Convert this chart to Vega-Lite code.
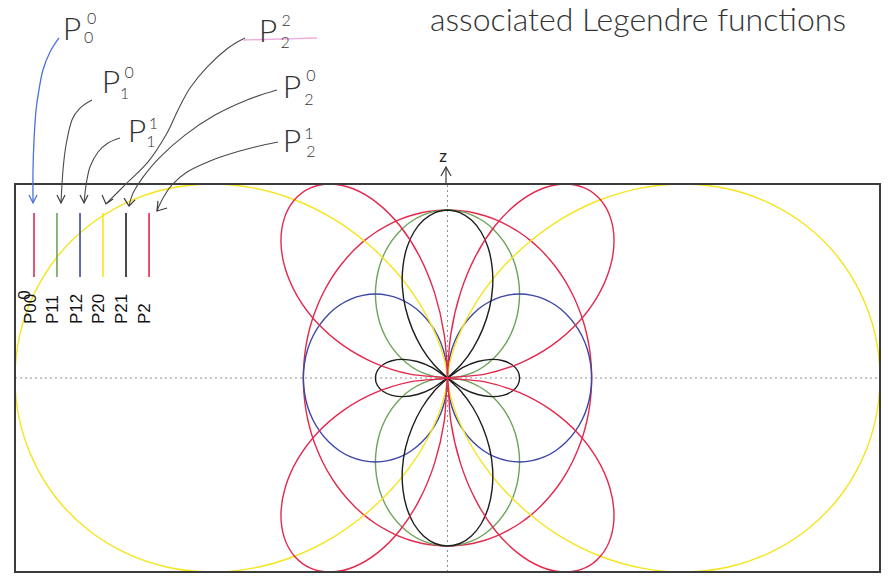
{
  "$schema": "https://vega.github.io/schema/vega-lite/v6.json",
  "width": 888,
  "height": 581,
  "autosize": {"type": "fit", "contains": "padding"},
  "padding": 0,
  "background": "white",
  "view": {"stroke": null},
  "config": {"font": "Liberation Sans"},
  "datasets": {
    "curves": [
      {"c":"P00","x":0,"y":1},{"c":"P00","x":0.087,"y":0.996},{"c":"P00","x":0.174,"y":0.985},{"c":"P00","x":0.259,"y":0.966},{"c":"P00","x":0.342,"y":0.94},{"c":"P00","x":0.423,"y":0.906},{"c":"P00","x":0.5,"y":0.866},{"c":"P00","x":0.574,"y":0.819},{"c":"P00","x":0.643,"y":0.766},{"c":"P00","x":0.707,"y":0.707},{"c":"P00","x":0.766,"y":0.643},{"c":"P00","x":0.819,"y":0.574},{"c":"P00","x":0.866,"y":0.5},{"c":"P00","x":0.906,"y":0.423},{"c":"P00","x":0.94,"y":0.342},{"c":"P00","x":0.966,"y":0.259},{"c":"P00","x":0.985,"y":0.174},{"c":"P00","x":0.996,"y":0.087},{"c":"P00","x":1,"y":0},
      {"c":"P00","x":0.996,"y":-0.087},{"c":"P00","x":0.985,"y":-0.174},{"c":"P00","x":0.966,"y":-0.259},{"c":"P00","x":0.94,"y":-0.342},{"c":"P00","x":0.906,"y":-0.423},{"c":"P00","x":0.866,"y":-0.5},{"c":"P00","x":0.819,"y":-0.574},{"c":"P00","x":0.766,"y":-0.643},{"c":"P00","x":0.707,"y":-0.707},{"c":"P00","x":0.643,"y":-0.766},{"c":"P00","x":0.574,"y":-0.819},{"c":"P00","x":0.5,"y":-0.866},{"c":"P00","x":0.423,"y":-0.906},{"c":"P00","x":0.342,"y":-0.94},{"c":"P00","x":0.259,"y":-0.966},{"c":"P00","x":0.174,"y":-0.985},{"c":"P00","x":0.087,"y":-0.996},{"c":"P00","x":0,"y":-1},
      {"c":"P00","x":-0.087,"y":-0.996},{"c":"P00","x":-0.174,"y":-0.985},{"c":"P00","x":-0.259,"y":-0.966},{"c":"P00","x":-0.342,"y":-0.94},{"c":"P00","x":-0.423,"y":-0.906},{"c":"P00","x":-0.5,"y":-0.866},{"c":"P00","x":-0.574,"y":-0.819},{"c":"P00","x":-0.643,"y":-0.766},{"c":"P00","x":-0.707,"y":-0.707},{"c":"P00","x":-0.766,"y":-0.643},{"c":"P00","x":-0.819,"y":-0.574},{"c":"P00","x":-0.866,"y":-0.5},{"c":"P00","x":-0.906,"y":-0.423},{"c":"P00","x":-0.94,"y":-0.342},{"c":"P00","x":-0.966,"y":-0.259},{"c":"P00","x":-0.985,"y":-0.174},{"c":"P00","x":-0.996,"y":-0.087},{"c":"P00","x":-1,"y":0},
      {"c":"P00","x":-0.996,"y":0.087},{"c":"P00","x":-0.985,"y":0.174},{"c":"P00","x":-0.966,"y":0.259},{"c":"P00","x":-0.94,"y":0.342},{"c":"P00","x":-0.906,"y":0.423},{"c":"P00","x":-0.866,"y":0.5},{"c":"P00","x":-0.819,"y":0.574},{"c":"P00","x":-0.766,"y":0.643},{"c":"P00","x":-0.707,"y":0.707},{"c":"P00","x":-0.643,"y":0.766},{"c":"P00","x":-0.574,"y":0.819},{"c":"P00","x":-0.5,"y":0.866},{"c":"P00","x":-0.423,"y":0.906},{"c":"P00","x":-0.342,"y":0.94},{"c":"P00","x":-0.259,"y":0.966},{"c":"P00","x":-0.174,"y":0.985},{"c":"P00","x":-0.087,"y":0.996},{"c":"P00","x":0,"y":1},

      {"c":"P10","x":0,"y":1},{"c":"P10","x":0.087,"y":0.992},{"c":"P10","x":0.171,"y":0.97},{"c":"P10","x":0.25,"y":0.933},{"c":"P10","x":0.321,"y":0.883},{"c":"P10","x":0.383,"y":0.821},{"c":"P10","x":0.433,"y":0.75},{"c":"P10","x":0.47,"y":0.671},{"c":"P10","x":0.492,"y":0.587},{"c":"P10","x":0.5,"y":0.5},{"c":"P10","x":0.492,"y":0.413},{"c":"P10","x":0.47,"y":0.329},{"c":"P10","x":0.433,"y":0.25},{"c":"P10","x":0.383,"y":0.179},{"c":"P10","x":0.321,"y":0.117},{"c":"P10","x":0.25,"y":0.067},{"c":"P10","x":0.171,"y":0.03},{"c":"P10","x":0.087,"y":0.008},{"c":"P10","x":0,"y":0},
      {"c":"P10","x":0.087,"y":-0.008},{"c":"P10","x":0.171,"y":-0.03},{"c":"P10","x":0.25,"y":-0.067},{"c":"P10","x":0.321,"y":-0.117},{"c":"P10","x":0.383,"y":-0.179},{"c":"P10","x":0.433,"y":-0.25},{"c":"P10","x":0.47,"y":-0.329},{"c":"P10","x":0.492,"y":-0.413},{"c":"P10","x":0.5,"y":-0.5},{"c":"P10","x":0.492,"y":-0.587},{"c":"P10","x":0.47,"y":-0.671},{"c":"P10","x":0.433,"y":-0.75},{"c":"P10","x":0.383,"y":-0.821},{"c":"P10","x":0.321,"y":-0.883},{"c":"P10","x":0.25,"y":-0.933},{"c":"P10","x":0.171,"y":-0.97},{"c":"P10","x":0.087,"y":-0.992},{"c":"P10","x":0,"y":-1},
      {"c":"P10","x":-0.087,"y":-0.992},{"c":"P10","x":-0.171,"y":-0.97},{"c":"P10","x":-0.25,"y":-0.933},{"c":"P10","x":-0.321,"y":-0.883},{"c":"P10","x":-0.383,"y":-0.821},{"c":"P10","x":-0.433,"y":-0.75},{"c":"P10","x":-0.47,"y":-0.671},{"c":"P10","x":-0.492,"y":-0.587},{"c":"P10","x":-0.5,"y":-0.5},{"c":"P10","x":-0.492,"y":-0.413},{"c":"P10","x":-0.47,"y":-0.329},{"c":"P10","x":-0.433,"y":-0.25},{"c":"P10","x":-0.383,"y":-0.179},{"c":"P10","x":-0.321,"y":-0.117},{"c":"P10","x":-0.25,"y":-0.067},{"c":"P10","x":-0.171,"y":-0.03},{"c":"P10","x":-0.087,"y":-0.008},{"c":"P10","x":0,"y":0},
      {"c":"P10","x":-0.087,"y":0.008},{"c":"P10","x":-0.171,"y":0.03},{"c":"P10","x":-0.25,"y":0.067},{"c":"P10","x":-0.321,"y":0.117},{"c":"P10","x":-0.383,"y":0.179},{"c":"P10","x":-0.433,"y":0.25},{"c":"P10","x":-0.47,"y":0.329},{"c":"P10","x":-0.492,"y":0.413},{"c":"P10","x":-0.5,"y":0.5},{"c":"P10","x":-0.492,"y":0.587},{"c":"P10","x":-0.47,"y":0.671},{"c":"P10","x":-0.433,"y":0.75},{"c":"P10","x":-0.383,"y":0.821},{"c":"P10","x":-0.321,"y":0.883},{"c":"P10","x":-0.25,"y":0.933},{"c":"P10","x":-0.171,"y":0.97},{"c":"P10","x":-0.087,"y":0.992},{"c":"P10","x":0,"y":1},

      {"c":"P11","x":0,"y":0},{"c":"P11","x":0.008,"y":0.087},{"c":"P11","x":0.03,"y":0.171},{"c":"P11","x":0.067,"y":0.25},{"c":"P11","x":0.117,"y":0.321},{"c":"P11","x":0.179,"y":0.383},{"c":"P11","x":0.25,"y":0.433},{"c":"P11","x":0.329,"y":0.47},{"c":"P11","x":0.413,"y":0.492},{"c":"P11","x":0.5,"y":0.5},{"c":"P11","x":0.587,"y":0.492},{"c":"P11","x":0.671,"y":0.47},{"c":"P11","x":0.75,"y":0.433},{"c":"P11","x":0.821,"y":0.383},{"c":"P11","x":0.883,"y":0.321},{"c":"P11","x":0.933,"y":0.25},{"c":"P11","x":0.97,"y":0.171},{"c":"P11","x":0.992,"y":0.087},{"c":"P11","x":1,"y":0},
      {"c":"P11","x":0.992,"y":-0.087},{"c":"P11","x":0.97,"y":-0.171},{"c":"P11","x":0.933,"y":-0.25},{"c":"P11","x":0.883,"y":-0.321},{"c":"P11","x":0.821,"y":-0.383},{"c":"P11","x":0.75,"y":-0.433},{"c":"P11","x":0.671,"y":-0.47},{"c":"P11","x":0.587,"y":-0.492},{"c":"P11","x":0.5,"y":-0.5},{"c":"P11","x":0.413,"y":-0.492},{"c":"P11","x":0.329,"y":-0.47},{"c":"P11","x":0.25,"y":-0.433},{"c":"P11","x":0.179,"y":-0.383},{"c":"P11","x":0.117,"y":-0.321},{"c":"P11","x":0.067,"y":-0.25},{"c":"P11","x":0.03,"y":-0.171},{"c":"P11","x":0.008,"y":-0.087},{"c":"P11","x":0,"y":0},
      {"c":"P11","x":-0.008,"y":-0.087},{"c":"P11","x":-0.03,"y":-0.171},{"c":"P11","x":-0.067,"y":-0.25},{"c":"P11","x":-0.117,"y":-0.321},{"c":"P11","x":-0.179,"y":-0.383},{"c":"P11","x":-0.25,"y":-0.433},{"c":"P11","x":-0.329,"y":-0.47},{"c":"P11","x":-0.413,"y":-0.492},{"c":"P11","x":-0.5,"y":-0.5},{"c":"P11","x":-0.587,"y":-0.492},{"c":"P11","x":-0.671,"y":-0.47},{"c":"P11","x":-0.75,"y":-0.433},{"c":"P11","x":-0.821,"y":-0.383},{"c":"P11","x":-0.883,"y":-0.321},{"c":"P11","x":-0.933,"y":-0.25},{"c":"P11","x":-0.97,"y":-0.171},{"c":"P11","x":-0.992,"y":-0.087},{"c":"P11","x":-1,"y":0},
      {"c":"P11","x":-0.992,"y":0.087},{"c":"P11","x":-0.97,"y":0.171},{"c":"P11","x":-0.933,"y":0.25},{"c":"P11","x":-0.883,"y":0.321},{"c":"P11","x":-0.821,"y":0.383},{"c":"P11","x":-0.75,"y":0.433},{"c":"P11","x":-0.671,"y":0.47},{"c":"P11","x":-0.587,"y":0.492},{"c":"P11","x":-0.5,"y":0.5},{"c":"P11","x":-0.413,"y":0.492},{"c":"P11","x":-0.329,"y":0.47},{"c":"P11","x":-0.25,"y":0.433},{"c":"P11","x":-0.179,"y":0.383},{"c":"P11","x":-0.117,"y":0.321},{"c":"P11","x":-0.067,"y":0.25},{"c":"P11","x":-0.03,"y":0.171},{"c":"P11","x":-0.008,"y":0.087},{"c":"P11","x":0,"y":0},

      {"c":"P22","x":0,"y":0},{"c":"P22","x":0.002,"y":0.023},{"c":"P22","x":0.016,"y":0.089},{"c":"P22","x":0.052,"y":0.194},{"c":"P22","x":0.12,"y":0.33},{"c":"P22","x":0.226,"y":0.486},{"c":"P22","x":0.375,"y":0.65},{"c":"P22","x":0.566,"y":0.808},{"c":"P22","x":0.797,"y":0.95},{"c":"P22","x":1.061,"y":1.061},{"c":"P22","x":1.349,"y":1.132},{"c":"P22","x":1.649,"y":1.155},{"c":"P22","x":1.949,"y":1.125},{"c":"P22","x":2.233,"y":1.041},{"c":"P22","x":2.489,"y":0.906},{"c":"P22","x":2.704,"y":0.725},{"c":"P22","x":2.865,"y":0.505},{"c":"P22","x":2.966,"y":0.26},{"c":"P22","x":3,"y":0},
      {"c":"P22","x":2.966,"y":-0.26},{"c":"P22","x":2.865,"y":-0.505},{"c":"P22","x":2.704,"y":-0.725},{"c":"P22","x":2.489,"y":-0.906},{"c":"P22","x":2.233,"y":-1.041},{"c":"P22","x":1.949,"y":-1.125},{"c":"P22","x":1.649,"y":-1.155},{"c":"P22","x":1.349,"y":-1.132},{"c":"P22","x":1.061,"y":-1.061},{"c":"P22","x":0.797,"y":-0.95},{"c":"P22","x":0.566,"y":-0.808},{"c":"P22","x":0.375,"y":-0.65},{"c":"P22","x":0.226,"y":-0.486},{"c":"P22","x":0.12,"y":-0.33},{"c":"P22","x":0.052,"y":-0.194},{"c":"P22","x":0.016,"y":-0.089},{"c":"P22","x":0.002,"y":-0.023},{"c":"P22","x":0,"y":0},
      {"c":"P22","x":-0.002,"y":-0.023},{"c":"P22","x":-0.016,"y":-0.089},{"c":"P22","x":-0.052,"y":-0.194},{"c":"P22","x":-0.12,"y":-0.33},{"c":"P22","x":-0.226,"y":-0.486},{"c":"P22","x":-0.375,"y":-0.65},{"c":"P22","x":-0.566,"y":-0.808},{"c":"P22","x":-0.797,"y":-0.95},{"c":"P22","x":-1.061,"y":-1.061},{"c":"P22","x":-1.349,"y":-1.132},{"c":"P22","x":-1.649,"y":-1.155},{"c":"P22","x":-1.949,"y":-1.125},{"c":"P22","x":-2.233,"y":-1.041},{"c":"P22","x":-2.489,"y":-0.906},{"c":"P22","x":-2.704,"y":-0.725},{"c":"P22","x":-2.865,"y":-0.505},{"c":"P22","x":-2.966,"y":-0.26},{"c":"P22","x":-3,"y":0},
      {"c":"P22","x":-2.966,"y":0.26},{"c":"P22","x":-2.865,"y":0.505},{"c":"P22","x":-2.704,"y":0.725},{"c":"P22","x":-2.489,"y":0.906},{"c":"P22","x":-2.233,"y":1.041},{"c":"P22","x":-1.949,"y":1.125},{"c":"P22","x":-1.649,"y":1.155},{"c":"P22","x":-1.349,"y":1.132},{"c":"P22","x":-1.061,"y":1.061},{"c":"P22","x":-0.797,"y":0.95},{"c":"P22","x":-0.566,"y":0.808},{"c":"P22","x":-0.375,"y":0.65},{"c":"P22","x":-0.226,"y":0.486},{"c":"P22","x":-0.12,"y":0.33},{"c":"P22","x":-0.052,"y":0.194},{"c":"P22","x":-0.016,"y":0.089},{"c":"P22","x":-0.002,"y":0.023},{"c":"P22","x":0,"y":0},

      {"c":"P20","x":0,"y":1},{"c":"P20","x":0.086,"y":0.985},{"c":"P20","x":0.166,"y":0.94},{"c":"P20","x":0.233,"y":0.869},{"c":"P20","x":0.282,"y":0.775},{"c":"P20","x":0.309,"y":0.664},{"c":"P20","x":0.313,"y":0.541},{"c":"P20","x":0.291,"y":0.415},{"c":"P20","x":0.244,"y":0.291},{"c":"P20","x":0.177,"y":0.177},{"c":"P20","x":0.092,"y":0.077},{"c":"P20","x":0,"y":0},{"c":"P20","x":0.108,"y":0.063},{"c":"P20","x":0.21,"y":0.098},{"c":"P20","x":0.305,"y":0.111},{"c":"P20","x":0.386,"y":0.103},{"c":"P20","x":0.448,"y":0.079},{"c":"P20","x":0.487,"y":0.043},{"c":"P20","x":0.5,"y":0},
      {"c":"P20","x":0.487,"y":-0.043},{"c":"P20","x":0.448,"y":-0.079},{"c":"P20","x":0.386,"y":-0.103},{"c":"P20","x":0.305,"y":-0.111},{"c":"P20","x":0.21,"y":-0.098},{"c":"P20","x":0.108,"y":-0.063},{"c":"P20","x":0,"y":0},{"c":"P20","x":0.092,"y":-0.077},{"c":"P20","x":0.177,"y":-0.177},{"c":"P20","x":0.244,"y":-0.291},{"c":"P20","x":0.291,"y":-0.415},{"c":"P20","x":0.313,"y":-0.541},{"c":"P20","x":0.309,"y":-0.664},{"c":"P20","x":0.282,"y":-0.775},{"c":"P20","x":0.233,"y":-0.869},{"c":"P20","x":0.166,"y":-0.94},{"c":"P20","x":0.086,"y":-0.985},{"c":"P20","x":0,"y":-1},
      {"c":"P20","x":-0.086,"y":-0.985},{"c":"P20","x":-0.166,"y":-0.94},{"c":"P20","x":-0.233,"y":-0.869},{"c":"P20","x":-0.282,"y":-0.775},{"c":"P20","x":-0.309,"y":-0.664},{"c":"P20","x":-0.313,"y":-0.541},{"c":"P20","x":-0.291,"y":-0.415},{"c":"P20","x":-0.244,"y":-0.291},{"c":"P20","x":-0.177,"y":-0.177},{"c":"P20","x":-0.092,"y":-0.077},{"c":"P20","x":0,"y":0},{"c":"P20","x":-0.108,"y":-0.063},{"c":"P20","x":-0.21,"y":-0.098},{"c":"P20","x":-0.305,"y":-0.111},{"c":"P20","x":-0.386,"y":-0.103},{"c":"P20","x":-0.448,"y":-0.079},{"c":"P20","x":-0.487,"y":-0.043},{"c":"P20","x":-0.5,"y":0},
      {"c":"P20","x":-0.487,"y":0.043},{"c":"P20","x":-0.448,"y":0.079},{"c":"P20","x":-0.386,"y":0.103},{"c":"P20","x":-0.305,"y":0.111},{"c":"P20","x":-0.21,"y":0.098},{"c":"P20","x":-0.108,"y":0.063},{"c":"P20","x":0,"y":0},{"c":"P20","x":-0.092,"y":0.077},{"c":"P20","x":-0.177,"y":0.177},{"c":"P20","x":-0.244,"y":0.291},{"c":"P20","x":-0.291,"y":0.415},{"c":"P20","x":-0.313,"y":0.541},{"c":"P20","x":-0.309,"y":0.664},{"c":"P20","x":-0.282,"y":0.775},{"c":"P20","x":-0.233,"y":0.869},{"c":"P20","x":-0.166,"y":0.94},{"c":"P20","x":-0.086,"y":0.985},{"c":"P20","x":0,"y":1},

      {"c":"P21","x":0,"y":0},{"c":"P21","x":0.023,"y":0.26},{"c":"P21","x":0.089,"y":0.505},{"c":"P21","x":0.194,"y":0.724},{"c":"P21","x":0.33,"y":0.906},{"c":"P21","x":0.486,"y":1.041},{"c":"P21","x":0.65,"y":1.125},{"c":"P21","x":0.808,"y":1.155},{"c":"P21","x":0.95,"y":1.132},{"c":"P21","x":1.061,"y":1.061},{"c":"P21","x":1.132,"y":0.95},{"c":"P21","x":1.155,"y":0.808},{"c":"P21","x":1.125,"y":0.65},{"c":"P21","x":1.041,"y":0.486},{"c":"P21","x":0.906,"y":0.33},{"c":"P21","x":0.724,"y":0.194},{"c":"P21","x":0.505,"y":0.089},{"c":"P21","x":0.26,"y":0.023},{"c":"P21","x":0,"y":0},
      {"c":"P21","x":0.26,"y":-0.023},{"c":"P21","x":0.505,"y":-0.089},{"c":"P21","x":0.724,"y":-0.194},{"c":"P21","x":0.906,"y":-0.33},{"c":"P21","x":1.041,"y":-0.486},{"c":"P21","x":1.125,"y":-0.65},{"c":"P21","x":1.155,"y":-0.808},{"c":"P21","x":1.132,"y":-0.95},{"c":"P21","x":1.061,"y":-1.061},{"c":"P21","x":0.95,"y":-1.132},{"c":"P21","x":0.808,"y":-1.155},{"c":"P21","x":0.65,"y":-1.125},{"c":"P21","x":0.486,"y":-1.041},{"c":"P21","x":0.33,"y":-0.906},{"c":"P21","x":0.194,"y":-0.724},{"c":"P21","x":0.089,"y":-0.505},{"c":"P21","x":0.023,"y":-0.26},{"c":"P21","x":0,"y":0},
      {"c":"P21","x":-0.023,"y":-0.26},{"c":"P21","x":-0.089,"y":-0.505},{"c":"P21","x":-0.194,"y":-0.724},{"c":"P21","x":-0.33,"y":-0.906},{"c":"P21","x":-0.486,"y":-1.041},{"c":"P21","x":-0.65,"y":-1.125},{"c":"P21","x":-0.808,"y":-1.155},{"c":"P21","x":-0.95,"y":-1.132},{"c":"P21","x":-1.061,"y":-1.061},{"c":"P21","x":-1.132,"y":-0.95},{"c":"P21","x":-1.155,"y":-0.808},{"c":"P21","x":-1.125,"y":-0.65},{"c":"P21","x":-1.041,"y":-0.486},{"c":"P21","x":-0.906,"y":-0.33},{"c":"P21","x":-0.724,"y":-0.194},{"c":"P21","x":-0.505,"y":-0.089},{"c":"P21","x":-0.26,"y":-0.023},{"c":"P21","x":0,"y":0},
      {"c":"P21","x":-0.26,"y":0.023},{"c":"P21","x":-0.505,"y":0.089},{"c":"P21","x":-0.724,"y":0.194},{"c":"P21","x":-0.906,"y":0.33},{"c":"P21","x":-1.041,"y":0.486},{"c":"P21","x":-1.125,"y":0.65},{"c":"P21","x":-1.155,"y":0.808},{"c":"P21","x":-1.132,"y":0.95},{"c":"P21","x":-1.061,"y":1.061},{"c":"P21","x":-0.95,"y":1.132},{"c":"P21","x":-0.808,"y":1.155},{"c":"P21","x":-0.65,"y":1.125},{"c":"P21","x":-0.486,"y":1.041},{"c":"P21","x":-0.33,"y":0.906},{"c":"P21","x":-0.194,"y":0.724},{"c":"P21","x":-0.089,"y":0.505},{"c":"P21","x":-0.023,"y":0.26},{"c":"P21","x":0,"y":0}
    ],
    "key": [
      {"c":"P00","x":-2.868},{"c":"P10","x":-2.709},{"c":"P11","x":-2.549},
      {"c":"P22","x":-2.39},{"c":"P20","x":-2.23},{"c":"P21","x":-2.07}
    ],
    "keytext": [
      {"t":"P00","x":-2.891},{"t":"P11","x":-2.734},{"t":"P12","x":-2.572},
      {"t":"P20","x":-2.415},{"t":"P21","x":-2.258},{"t":"P2","x":-2.098}
    ],
    "arrows": [
      {"a":"P00","x":-2.695,"y":2.024},{"a":"P00","x":-2.757,"y":1.94},{"a":"P00","x":-2.806,"y":1.833},{"a":"P00","x":-2.834,"y":1.714},{"a":"P00","x":-2.854,"y":1.595},{"a":"P00","x":-2.868,"y":1.417},{"a":"P00","x":-2.875,"y":1.238},{"a":"P00","x":-2.875,"y":1.042},
      {"a":"P10","x":-2.466,"y":1.655},{"a":"P10","x":-2.549,"y":1.607},{"a":"P10","x":-2.605,"y":1.536},{"a":"P10","x":-2.646,"y":1.387},{"a":"P10","x":-2.667,"y":1.238},{"a":"P10","x":-2.681,"y":1.042},
      {"a":"P11","x":-2.272,"y":1.429},{"a":"P11","x":-2.355,"y":1.399},{"a":"P11","x":-2.424,"y":1.345},{"a":"P11","x":-2.48,"y":1.256},{"a":"P11","x":-2.507,"y":1.149},{"a":"P11","x":-2.521,"y":1.042},
      {"a":"P22","x":-1.405,"y":2.024},{"a":"P22","x":-1.522,"y":1.964},{"a":"P22","x":-1.668,"y":1.851},{"a":"P22","x":-1.786,"y":1.726},{"a":"P22","x":-1.869,"y":1.595},{"a":"P22","x":-1.953,"y":1.446},{"a":"P22","x":-2.077,"y":1.286},{"a":"P22","x":-2.237,"y":1.149},{"a":"P22","x":-2.369,"y":1.036},
      {"a":"P20","x":-1.183,"y":1.714},{"a":"P20","x":-1.391,"y":1.655},{"a":"P20","x":-1.613,"y":1.565},{"a":"P20","x":-1.821,"y":1.446},{"a":"P20","x":-1.994,"y":1.315},{"a":"P20","x":-2.112,"y":1.196},{"a":"P20","x":-2.181,"y":1.101},{"a":"P20","x":-2.209,"y":1.024},
      {"a":"P21","x":-1.176,"y":1.405},{"a":"P21","x":-1.335,"y":1.375},{"a":"P21","x":-1.488,"y":1.339},{"a":"P21","x":-1.647,"y":1.292},{"a":"P21","x":-1.807,"y":1.226},{"a":"P21","x":-1.911,"y":1.149},{"a":"P21","x":-1.973,"y":1.071},{"a":"P21","x":-2.015,"y":0.994}
    ],
    "heads": [
      {"a":"P00","x":-2.903,"y":1.089},{"a":"P00","x":-2.875,"y":1.042},{"a":"P00","x":-2.847,"y":1.089},
      {"a":"P10","x":-2.709,"y":1.089},{"a":"P10","x":-2.681,"y":1.042},{"a":"P10","x":-2.653,"y":1.089},
      {"a":"P11","x":-2.549,"y":1.089},{"a":"P11","x":-2.521,"y":1.042},{"a":"P11","x":-2.494,"y":1.089},
      {"a":"P22","x":-2.396,"y":1.089},{"a":"P22","x":-2.369,"y":1.036},{"a":"P22","x":-2.32,"y":1.065},
      {"a":"P20","x":-2.244,"y":1.071},{"a":"P20","x":-2.209,"y":1.024},{"a":"P20","x":-2.167,"y":1.06},
      {"a":"P21","x":-2.008,"y":1.054},{"a":"P21","x":-2.015,"y":0.994},{"a":"P21","x":-1.945,"y":1.012},
      {"a":"zs","x":-0.0104,"y":1.1548},{"a":"zs","x":-0.0104,"y":1.256},
      {"a":"zh","x":-0.0451,"y":1.2024},{"a":"zh","x":-0.0104,"y":1.256},{"a":"zh","x":0.0243,"y":1.2024}
    ],
    "bigP": [
      {"n":"P00","x":-2.605,"y":2.071},{"n":"P10","x":-2.334,"y":1.756},{"n":"P11","x":-2.154,"y":1.464},
      {"n":"P22","x":-1.245,"y":2.06},{"n":"P20","x":-1.079,"y":1.726},{"n":"P21","x":-1.079,"y":1.405}
    ],
    "indices": [
      {"t":"0","x":-2.469,"y":2.137},{"t":"0","x":-2.49,"y":2.024},
      {"t":"0","x":-2.209,"y":1.815},{"t":"1","x":-2.24,"y":1.69},
      {"t":"1","x":-2.04,"y":1.512},{"t":"1","x":-2.058,"y":1.405},
      {"t":"2","x":-1.12,"y":2.125},{"t":"2","x":-1.127,"y":1.994},
      {"t":"0","x":-0.947,"y":1.798},{"t":"2","x":-0.961,"y":1.655},
      {"t":"1","x":-0.961,"y":1.452},{"t":"2","x":-0.947,"y":1.345}
    ]
  },
  "layer": [
    {
      "data": {"values": [{}]},
      "mark": {"type": "rule", "color": "#8c8c8c", "strokeWidth": 1, "strokeDash": [2, 3]},
      "encoding": {
        "x": {"datum": 0, "type": "quantitative", "scale": {"domain": [-3.104, 3.0555], "nice": false, "zero": false}, "axis": null},
        "y": {"datum": -1.1547, "type": "quantitative", "scale": {"domain": [-1.2083, 2.25], "nice": false, "zero": false}, "axis": null},
        "y2": {"datum": 1.1547}
      }
    },
    {
      "data": {"values": [{}]},
      "mark": {"type": "rule", "color": "#8c8c8c", "strokeWidth": 1, "strokeDash": [2, 3]},
      "encoding": {
        "x": {"datum": -3, "type": "quantitative", "axis": null},
        "x2": {"datum": 3},
        "y": {"datum": 0, "type": "quantitative", "axis": null}
      }
    },
    {
      "data": {"name": "curves"},
      "mark": {"type": "line", "strokeWidth": 1.4, "interpolate": "cardinal"},
      "encoding": {
        "x": {"field": "x", "type": "quantitative", "axis": null},
        "y": {"field": "y", "type": "quantitative", "axis": null},
        "color": {"field": "c", "type": "nominal", "legend": null,
          "scale": {"domain": ["P00", "P10", "P11", "P22", "P20", "P21"],
                    "range": ["#e3294d", "#6da35a", "#3a47a6", "#f5e41e", "#1e1e1e", "#e3294d"]}},
        "order": {"value": null}
      }
    },
    {
      "data": {"name": "key"},
      "mark": {"type": "rule", "strokeWidth": 1.6},
      "encoding": {
        "x": {"field": "x", "type": "quantitative", "axis": null},
        "y": {"datum": 0.982, "type": "quantitative", "axis": null},
        "y2": {"datum": 0.601},
        "color": {"field": "c", "type": "nominal", "legend": null}
      }
    },
    {
      "data": {"name": "keytext"},
      "mark": {"type": "text", "angle": 270, "align": "left", "baseline": "middle", "fontSize": 17, "color": "#111"},
      "encoding": {
        "x": {"field": "x", "type": "quantitative", "axis": null},
        "y": {"datum": 0.321, "type": "quantitative", "axis": null},
        "text": {"field": "t"}
      }
    },
    {
      "data": {"values": [{}]},
      "mark": {"type": "text", "angle": 270, "align": "center", "baseline": "middle", "fontSize": 17, "color": "#111"},
      "encoding": {
        "x": {"datum": -2.934, "type": "quantitative", "axis": null},
        "y": {"datum": 0.494, "type": "quantitative", "axis": null},
        "text": {"value": "0"}
      }
    },
    {
      "data": {"values": [{}]},
      "mark": {"type": "rect", "filled": false, "stroke": "#3c3c3c", "strokeWidth": 2},
      "encoding": {
        "x": {"datum": -3, "type": "quantitative", "axis": null},
        "x2": {"datum": 3},
        "y": {"datum": -1.1547, "type": "quantitative", "axis": null},
        "y2": {"datum": 1.1547}
      }
    },
    {
      "data": {"name": "arrows"},
      "transform": [{"filter": "datum.a === 'P00'"}],
      "mark": {"type": "line", "color": "#4a72d8", "strokeWidth": 1.3, "interpolate": "cardinal"},
      "encoding": {
        "x": {"field": "x", "type": "quantitative", "axis": null},
        "y": {"field": "y", "type": "quantitative", "axis": null},
        "detail": {"field": "a"}, "order": {"value": null}
      }
    },
    {
      "data": {"name": "arrows"},
      "transform": [{"filter": "datum.a !== 'P00'"}],
      "mark": {"type": "line", "color": "#4a4a4a", "strokeWidth": 1.1, "interpolate": "cardinal"},
      "encoding": {
        "x": {"field": "x", "type": "quantitative", "axis": null},
        "y": {"field": "y", "type": "quantitative", "axis": null},
        "detail": {"field": "a"}, "order": {"value": null}
      }
    },
    {
      "data": {"name": "heads"},
      "transform": [{"filter": "datum.a === 'P00'"}],
      "mark": {"type": "line", "color": "#4a72d8", "strokeWidth": 1.3},
      "encoding": {
        "x": {"field": "x", "type": "quantitative", "axis": null},
        "y": {"field": "y", "type": "quantitative", "axis": null},
        "detail": {"field": "a"}, "order": {"value": null}
      }
    },
    {
      "data": {"name": "heads"},
      "transform": [{"filter": "datum.a !== 'P00'"}],
      "mark": {"type": "line", "color": "#3a3a3a", "strokeWidth": 1.2},
      "encoding": {
        "x": {"field": "x", "type": "quantitative", "axis": null},
        "y": {"field": "y", "type": "quantitative", "axis": null},
        "detail": {"field": "a"}, "order": {"value": null}
      }
    },
    {
      "data": {"values": [{"x": -1.418, "y": 2.012}, {"x": -0.905, "y": 2.024}]},
      "mark": {"type": "line", "color": "#ea9ad6", "strokeWidth": 1.4, "opacity": 0.8},
      "encoding": {
        "x": {"field": "x", "type": "quantitative", "axis": null},
        "y": {"field": "y", "type": "quantitative", "axis": null},
        "order": {"value": null}
      }
    },
    {
      "data": {"name": "bigP"},
      "mark": {"type": "text", "font": "Lato", "fontWeight": 300, "fontSize": 32, "align": "center", "baseline": "middle", "color": "#333"},
      "encoding": {
        "x": {"field": "x", "type": "quantitative", "axis": null},
        "y": {"field": "y", "type": "quantitative", "axis": null},
        "text": {"value": "P"}
      }
    },
    {
      "data": {"name": "indices"},
      "mark": {"type": "text", "font": "Lato", "fontWeight": 300, "fontSize": 16, "align": "center", "baseline": "middle", "color": "#333"},
      "encoding": {
        "x": {"field": "x", "type": "quantitative", "axis": null},
        "y": {"field": "y", "type": "quantitative", "axis": null},
        "text": {"field": "t"}
      }
    },
    {
      "data": {"values": [{}]},
      "mark": {"type": "text", "font": "Lato", "fontWeight": 300, "fontSize": 32, "align": "left", "baseline": "alphabetic", "color": "#333"},
      "encoding": {
        "x": {"datum": -0.1214, "type": "quantitative", "axis": null},
        "y": {"datum": 2.0655, "type": "quantitative", "axis": null},
        "text": {"value": "associated Legendre functions"}
      }
    },
    {
      "data": {"values": [{}]},
      "mark": {"type": "text", "font": "Lato", "fontSize": 17, "align": "center", "baseline": "middle", "color": "#222"},
      "encoding": {
        "x": {"datum": -0.031, "type": "quantitative", "axis": null},
        "y": {"datum": 1.3155, "type": "quantitative", "axis": null},
        "text": {"value": "z"}
      }
    }
  ]
}
